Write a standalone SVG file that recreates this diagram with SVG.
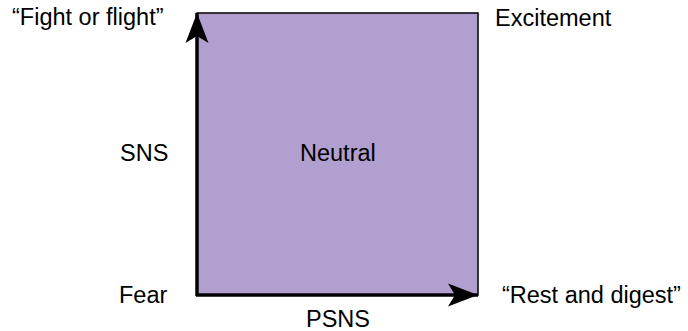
<svg xmlns="http://www.w3.org/2000/svg" width="688" height="331" viewBox="0 0 688 331">
  <defs>
    <style>
      .lbl { font-family: "Liberation Sans", Arial, sans-serif; font-size: 23.5px; fill: #000; }
      .axis { stroke: #000; stroke-width: 3.5; fill: none; }
    </style>
    <marker id="head" viewBox="-34 -13 36 26" refX="0" refY="0" markerWidth="36" markerHeight="26" markerUnits="userSpaceOnUse" orient="auto">
      <path d="M0,0 L-30,-11.5 L-23,0 L-30,11.5 Z" fill="#000"/>
    </marker>
  </defs>

  <rect width="688" height="331" fill="#fff"/>

  <!-- state space -->
  <g id="space">
    <rect x="197" y="13" width="281" height="282" fill="#b09fcf" stroke="#000" stroke-width="1.5"/>
    <text class="lbl" x="300" y="161">Neutral</text>
  </g>

  <!-- axes -->
  <g id="connectors">
    <line class="axis" x1="197" y1="296" x2="197" y2="13" marker-end="url(#head)"/>
    <line class="axis" x1="196" y1="295" x2="478" y2="295" marker-end="url(#head)"/>
  </g>

  <g id="corner-top-left"><text class="lbl" x="12" y="25">“Fight or flight”</text></g>
  <g id="corner-top-right"><text class="lbl" x="495" y="26">Excitement</text></g>
  <g id="axis-sns"><text class="lbl" x="120" y="161">SNS</text></g>
  <g id="corner-bottom-left"><text class="lbl" x="119" y="303">Fear</text></g>
  <g id="corner-bottom-right"><text class="lbl" x="502" y="303">“Rest and digest”</text></g>
  <g id="axis-psns"><text class="lbl" x="306" y="327">PSNS</text></g>
</svg>
